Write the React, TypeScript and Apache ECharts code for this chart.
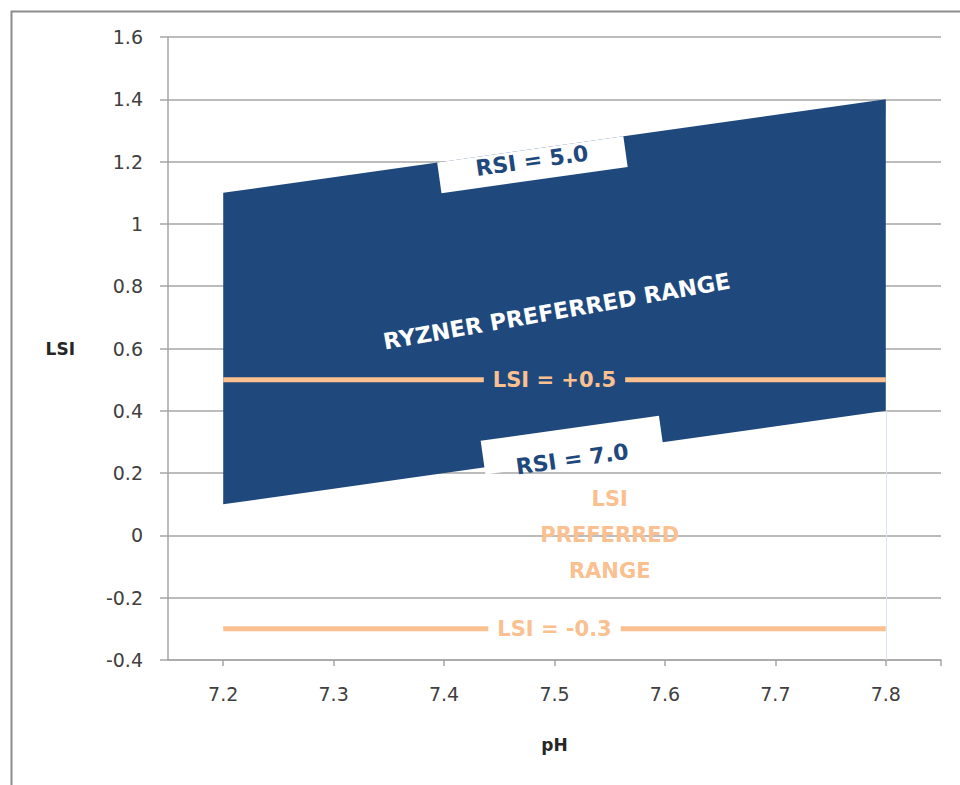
import React, { useEffect, useRef } from "react";
import * as echarts from "echarts";

// ---- data ----
const phRange = [7.2, 7.8];
const rsi5Line = [1.1, 1.4]; // top edge of Ryzner band (RSI = 5.0)
const rsi7Line = [0.1, 0.4]; // bottom edge of Ryzner band (RSI = 7.0)
const lsiUpper = 0.5;
const lsiLower = -0.3;
const xTickLabels = [7.2, 7.3, 7.4, 7.5, 7.6, 7.7, 7.8];
const xMin = 7.15;
const xMax = 7.85;
const yMin = -0.4;
const yMax = 1.6;
const yStep = 0.2;

const BLUE = "#1F497D";
const ORANGE = "#FAC090";
const FONT = "'DejaVu Sans', sans-serif";

export default function App() {
  const ref = useRef<HTMLDivElement>(null);

  useEffect(() => {
    if (!ref.current) return;
    const chart = echarts.init(ref.current, undefined, { renderer: "svg" });

    const bandData = phRange.map((x, i) => [x, rsi7Line[i], rsi5Line[i]]);
    const midX = (phRange[0] + phRange[1]) / 2;

    const boldLabel = (extra: any) => ({
      show: true,
      position: "inside",
      fontFamily: FONT,
      fontSize: 21,
      fontWeight: "bold",
      ...extra,
    });

    const option: any = {
      animation: false,
      backgroundColor: "#ffffff",
      textStyle: { fontFamily: FONT },
      grid: { left: 168, right: 19, top: 37, bottom: 125, containLabel: false },
      graphic: [
        {
          type: "rect",
          left: 9,
          top: 9,
          shape: { width: 1000, height: 1000 },
          style: { fill: "none", stroke: "#8C8C8C", lineWidth: 2 },
          silent: true,
        },
      ],
      xAxis: {
        type: "value",
        min: xMin,
        max: xMax,
        name: "pH",
        nameLocation: "middle",
        nameGap: 76,
        nameTextStyle: { fontFamily: FONT, fontSize: 17, fontWeight: "bold", color: "#262626" },
        axisLine: { show: true, onZero: false, lineStyle: { color: "#A6A6A6", width: 1.5 } },
        axisTick: {
          show: true,
          length: 6,
          customValues: [...xTickLabels, xMax],
          lineStyle: { color: "#A6A6A6", width: 1.5 },
        },
        axisLabel: {
          customValues: xTickLabels,
          formatter: (v: number) => v.toFixed(1),
          margin: 24,
          fontFamily: FONT,
          fontSize: 19,
          color: "#404040",
        },
        splitLine: { show: false },
      },
      yAxis: {
        type: "value",
        min: yMin,
        max: yMax,
        interval: yStep,
        name: "LSI",
        nameLocation: "middle",
        nameRotate: 0,
        nameGap: 93,
        nameTextStyle: { fontFamily: FONT, fontSize: 17, fontWeight: "bold", color: "#262626" },
        axisLine: { show: true, lineStyle: { color: "#A6A6A6", width: 1.5 } },
        axisTick: { show: true, length: 8, lineStyle: { color: "#A6A6A6", width: 1.5 } },
        axisLabel: {
          margin: 25,
          fontFamily: FONT,
          fontSize: 19,
          color: "#404040",
          formatter: (v: number) => String(parseFloat(v.toFixed(1))),
        },
        splitLine: { show: true, lineStyle: { color: "#A6A6A6", width: 1.5 } },
      },
      series: [
        {
          name: "Ryzner band",
          type: "custom",
          data: bandData,
          encode: { x: 0, y: [1, 2] },
          z: 2,
          silent: true,
          renderItem: (params: any, api: any) => {
            const i = params.dataIndex;
            if (i >= phRange.length - 1) return null;
            const pts = [
              api.coord([phRange[i], rsi7Line[i]]),
              api.coord([phRange[i + 1], rsi7Line[i + 1]]),
              api.coord([phRange[i + 1], rsi5Line[i + 1]]),
              api.coord([phRange[i], rsi5Line[i]]),
            ];
            return { type: "polygon", shape: { points: pts }, style: { fill: BLUE } };
          },
        },
        {
          name: "LSI = +0.5",
          type: "line",
          data: phRange.map((x) => [x, lsiUpper]),
          symbol: "none",
          lineStyle: { color: ORANGE, width: 5 },
          z: 3,
          silent: true,
          markLine: {
            silent: true,
            symbol: "none",
            label: { show: false },
            lineStyle: { color: "#DCE6F2", width: 1, type: "solid" },
            data: [[{ coord: [phRange[1], yMin] }, { coord: [phRange[1], rsi7Line[1]] }]],
          },
          markPoint: {
            silent: true,
            data: [
              {
                coord: [7.48, 1.19],
                symbol: "rect",
                symbolSize: [188, 31],
                symbolRotate: 8,
                itemStyle: { color: "#ffffff" },
                label: boldLabel({ formatter: "RSI = 5.0", rotate: 8, offset: [0, -4], color: BLUE, fontSize: 22 }),
              },
              {
                coord: [7.516, 0.29],
                symbol: "rect",
                symbolSize: [180, 34],
                symbolRotate: 8,
                itemStyle: { color: "#ffffff" },
                label: boldLabel({ formatter: "RSI = 7.0", rotate: 8, offset: [-2, 14], color: BLUE, fontSize: 22 }),
              },
              {
                coord: [7.502, 0.72],
                symbol: "rect",
                symbolSize: 0,
                label: boldLabel({ formatter: "RYZNER PREFERRED RANGE", rotate: 10, color: "#ffffff", fontSize: 22.5 }),
              },
              {
                coord: [midX, lsiUpper],
                symbol: "rect",
                symbolSize: 0,
                label: boldLabel({
                  formatter: "LSI = +0.5",
                  backgroundColor: BLUE,
                  padding: [2, 9, 0, 9],
                  color: ORANGE,
                }),
              },
            ],
          },
        },
        {
          name: "LSI = -0.3",
          type: "line",
          data: phRange.map((x) => [x, lsiLower]),
          symbol: "none",
          lineStyle: { color: ORANGE, width: 5 },
          z: 3,
          silent: true,
          markPoint: {
            silent: true,
            data: [
              {
                coord: [midX, lsiLower],
                symbol: "rect",
                symbolSize: 0,
                label: boldLabel({
                  formatter: "LSI = -0.3",
                  backgroundColor: "#ffffff",
                  padding: [2, 9, 0, 9],
                  color: ORANGE,
                }),
              },
              {
                coord: [7.55, 0.0],
                symbol: "rect",
                symbolSize: 0,
                label: boldLabel({
                  formatter: "LSI\nPREFERRED\nRANGE",
                  lineHeight: 36,
                  align: "center",
                  color: ORANGE,
                }),
              },
            ],
          },
        },
      ],
    };

    chart.setOption(option);
    return () => chart.dispose();
  }, []);

  return (
    <div
      ref={ref}
      style={{ position: "fixed", left: 0, top: 0, width: 960, height: 785, background: "#fff" }}
    />
  );
}
